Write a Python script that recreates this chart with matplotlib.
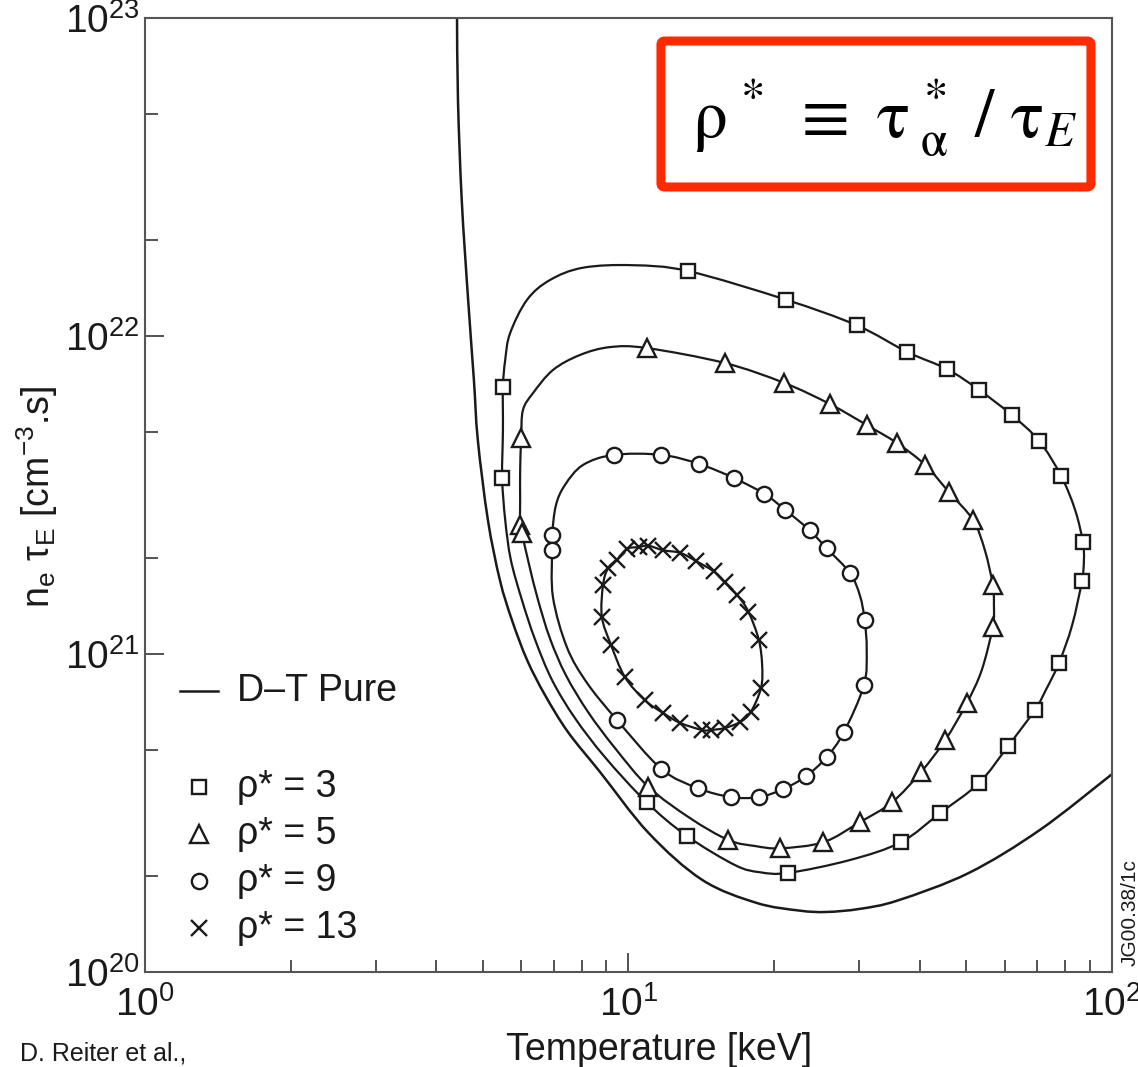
import matplotlib
matplotlib.use("Agg")
import numpy as np
import matplotlib.pyplot as plt
from matplotlib.path import Path
from matplotlib.patches import FancyBboxPatch, PathPatch
from matplotlib.ticker import LogLocator, NullFormatter

plt.rcParams['font.family'] = ['Liberation Sans', 'DejaVu Sans']
plt.rcParams['mathtext.fontset'] = 'custom'
plt.rcParams['mathtext.rm'] = 'Liberation Sans'
plt.rcParams['mathtext.it'] = 'Liberation Sans:italic'
plt.rcParams['mathtext.bf'] = 'Liberation Sans:bold'

# Pure D-T ignition boundary (T in keV, n_e*tau_E in cm^-3 s)
dt_T = [4.42, 4.44, 4.52, 4.66, 4.79, 4.88, 5.12, 5.42, 5.74, 6.17, 6.72, 7.50,
        8.73, 11.0, 14.2, 18.4, 22.6, 25.7, 30.1, 36.1, 50.6, 71.0, 100.0]
dt_nt = [1.0e23, 5.52e22, 2.68e22, 1.30e22, 7.27e21, 4.71e21, 2.64e21, 1.71e21,
         1.28e21, 9.58e20, 7.43e20, 5.68e20, 4.26e20, 2.74e20, 1.95e20, 1.65e20,
         1.56e20, 1.545e20, 1.58e20, 1.68e20, 2.05e20, 2.80e20, 4.19e20]

# rho* = 3 : closed contour and computed points
r3_T = [5.48, 5.50, 5.50, 5.56, 5.69, 6.17, 6.88, 8.05, 10.2, 13.3, 21.2, 29.7,
        37.7, 45.6, 53.1, 62.1, 70.7, 78.5, 83.9, 87.1, 87.5, 86.7, 82.7, 77.7,
        73.0, 69.3, 61.0, 53.1, 44.1, 36.6, 28.7, 21.4, 18.7, 16.6, 13.2, 10.9,
        8.94, 7.75, 6.95, 6.41, 6.02, 5.71, 5.56, 5.48]
r3_nt = [3.58e21, 5.06e21, 6.91e21, 8.41e21, 1.02e22, 1.30e22, 1.50e22, 1.64e22,
         1.67e22, 1.60e22, 1.30e22, 1.08e22, 8.91e21, 7.87e21, 6.77e21, 5.64e21,
         4.68e21, 3.63e21, 2.84e21, 2.25e21, 1.98e21, 1.70e21, 1.23e21, 9.37e20,
         7.71e20, 6.67e20, 5.14e20, 3.93e20, 3.16e20, 2.56e20, 2.25e20, 2.05e20,
         2.06e20, 2.17e20, 2.68e20, 3.42e20, 4.74e20, 6.29e20, 8.28e20, 1.11e21,
         1.48e21, 1.98e21, 2.64e21, 3.58e21]
r3_mT = [13.3, 21.2, 29.7, 37.7, 45.6, 53.1, 62.1, 70.7, 78.5, 87.1, 86.7, 77.7,
         69.3, 61.0, 53.1, 44.1, 36.6, 21.4, 13.2, 10.9, 5.50, 5.48]
r3_mnt = [1.60e22, 1.30e22, 1.08e22, 8.91e21, 7.87e21, 6.77e21, 5.64e21, 4.68e21,
          3.63e21, 2.25e21, 1.70e21, 9.37e20, 6.67e20, 5.14e20, 3.93e20, 3.16e20,
          2.56e20, 2.05e20, 2.68e20, 3.42e20, 6.91e21, 3.58e21]

# rho* = 5
r5_T = [5.97, 6.00, 6.05, 6.35, 6.98, 7.94, 9.16, 10.9, 15.8, 21.0, 26.1, 31.1,
        35.9, 41.1, 46.0, 51.6, 54.6, 56.7, 57.0, 56.7, 53.8, 50.1, 45.2, 40.3,
        35.1, 30.1, 25.3, 20.6, 18.3, 16.1, 13.4, 11.0, 9.38, 8.25, 7.42, 6.88,
        6.50, 6.23, 6.02, 5.97, 5.97, 5.97]
r5_nt = [3.79e21, 4.78e21, 5.85e21, 6.62e21, 7.82e21, 8.72e21, 9.23e21, 9.17e21,
         8.23e21, 7.12e21, 6.11e21, 5.25e21, 4.61e21, 3.93e21, 3.23e21, 2.64e21,
         2.12e21, 1.65e21, 1.43e21, 1.22e21, 8.91e20, 7.01e20, 5.36e20, 4.26e20,
         3.42e20, 2.96e20, 2.56e20, 2.45e20, 2.49e20, 2.60e20, 3.05e20, 3.82e20,
         5.06e20, 6.57e20, 8.59e20, 1.12e21, 1.48e21, 1.91e21, 2.40e21, 2.55e21,
         3.05e21, 3.79e21]
r5_mT = [10.9, 15.8, 21.0, 26.1, 31.1, 35.9, 41.1, 46.0, 51.6, 56.7, 56.7, 50.1,
         45.2, 40.3, 35.1, 30.1, 25.3, 20.6, 16.1, 11.0, 6.00, 5.97, 6.02]
r5_mnt = [9.17e21, 8.23e21, 7.12e21, 6.11e21, 5.25e21, 4.61e21, 3.93e21, 3.23e21,
          2.64e21, 1.65e21, 1.22e21, 7.01e20, 5.36e20, 4.26e20, 3.42e20, 2.96e20,
          2.56e20, 2.45e20, 2.60e20, 3.82e20, 4.78e21, 2.55e21, 2.40e21]

# rho* = 9
r9_T = [6.95, 7.08, 7.39, 8.05, 9.33, 11.7, 14.0, 16.5, 19.1, 21.1, 23.7, 25.7,
        28.7, 30.1, 30.8, 31.1, 30.7, 27.9, 25.7, 23.3, 20.9, 18.6, 16.3, 13.9,
        11.7, 9.47, 8.21, 7.46, 6.98, 6.95, 6.95]
r9_nt = [2.37e21, 2.94e21, 3.40e21, 3.93e21, 4.23e21, 4.23e21, 3.96e21, 3.58e21,
         3.19e21, 2.84e21, 2.45e21, 2.15e21, 1.80e21, 1.53e21, 1.28e21, 1.03e21,
         7.99e20, 5.68e20, 4.74e20, 4.13e20, 3.76e20, 3.55e20, 3.55e20, 3.79e20,
         4.35e20, 6.20e20, 8.11e20, 1.05e21, 1.51e21, 2.12e21, 2.37e21]
r9_mT = [9.33, 11.7, 14.0, 16.5, 19.1, 21.1, 23.7, 25.7, 28.7, 30.8, 30.7, 27.9,
         25.7, 23.3, 20.9, 18.6, 16.3, 13.9, 11.7, 9.47, 6.95, 6.95]
r9_mnt = [4.23e21, 4.23e21, 3.96e21, 3.58e21, 3.19e21, 2.84e21, 2.45e21, 2.15e21,
          1.80e21, 1.28e21, 7.99e20, 5.68e20, 4.74e20, 4.13e20, 3.76e20, 3.55e20,
          3.55e20, 3.79e20, 4.35e20, 6.20e20, 2.37e21, 2.12e21]

# rho* = 13
r13_T = [8.86, 9.07, 9.47, 9.93, 10.5, 11.0, 11.8, 12.8, 13.8, 15.0, 15.8, 16.8,
         17.7, 18.6, 18.9, 18.8, 17.9, 17.0, 15.8, 14.8, 14.2, 12.8, 11.8, 10.8,
         9.83, 9.20, 8.81, 8.86]
r13_nt = [1.65e21, 1.86e21, 1.98e21, 2.14e21, 2.17e21, 2.19e21, 2.12e21, 2.08e21,
          1.96e21, 1.82e21, 1.68e21, 1.53e21, 1.36e21, 1.11e21, 9.24e20, 7.82e20,
          6.57e20, 6.11e20, 5.85e20, 5.77e20, 5.77e20, 6.07e20, 6.52e20, 7.17e20,
          8.47e20, 1.07e21, 1.31e21, 1.65e21]
r13_mT = r13_T[:14] + r13_T[15:-1]
r13_mnt = r13_nt[:14] + r13_nt[15:-1]

labels = ['ρ* = 3', 'ρ* = 5', 'ρ* = 9', 'ρ* = 13']
markers = ['s', '^', 'o', 'x']
msizes = [10.5, 13.5, 11, 11]


def smooth_path(T, nt, closed):
    """Cubic Bezier path through the points, built in log-log space."""
    p = np.column_stack([np.log10(T), np.log10(nt)])
    if closed:
        p = p[:-1]
        ext = np.vstack([p[-1:], p, p[:2]])
        nseg = len(p)
    else:
        ext = np.vstack([p[:1], p, p[-1:]])
        nseg = len(p) - 1
    verts = [ext[1]]
    codes = [Path.MOVETO]
    for i in range(nseg):
        a, b, c, d = ext[i], ext[i + 1], ext[i + 2], ext[i + 3]
        verts += [b + (c - a) / 6, c - (d - b) / 6, c]
        codes += [Path.CURVE4] * 3
    return Path(10 ** np.array(verts), codes)


ink = '#1a1a1a'
fig = plt.figure(figsize=(11.38, 10.67), dpi=100)
ax = fig.add_axes([0.1274, 0.0890, 0.8497, 0.8941])
ax.set_xscale('log')
ax.set_yscale('log')
ax.set_xlim(1, 100)
ax.set_ylim(1e20, 1e23)

ax.add_patch(PathPatch(smooth_path(dt_T, dt_nt, False), fill=False,
                       edgecolor=ink, lw=1.8))
curves = [(r3_T, r3_nt, r3_mT, r3_mnt), (r5_T, r5_nt, r5_mT, r5_mnt),
          (r9_T, r9_nt, r9_mT, r9_mnt), (r13_T, r13_nt, r13_mT, r13_mnt)]
for (cT, cn, mT, mn), mk, ms in zip(curves, markers, msizes):
    ax.add_patch(PathPatch(smooth_path(cT, cn, True), fill=False,
                           edgecolor=ink, lw=1.6))
    ax.plot(mT, mn, ls='none', marker=mk, ms=ms, mfc='white', mec=ink, mew=1.7)

# axes styling
for s in ax.spines.values():
    s.set_color('#555555')
    s.set_linewidth(1.5)
ax.yaxis.set_minor_locator(LogLocator(base=10, subs=[2, 5]))
ax.yaxis.set_minor_formatter(NullFormatter())
ax.xaxis.set_minor_locator(LogLocator(base=10, subs=range(2, 10)))
ax.xaxis.set_minor_formatter(NullFormatter())
ax.tick_params(which='both', direction='in', top=False, right=False,
               color='#444444', width=1.3, labelsize=28, labelcolor=ink)
ax.tick_params(which='major', length=14)
ax.tick_params(which='minor', length=9)
ax.tick_params(axis='y', pad=4)
ax.tick_params(axis='x', pad=10)

ax.set_xlabel('Temperature [keV]', fontsize=27, color=ink)
ax.xaxis.set_label_coords(0.5315, -0.063)
ax.set_ylabel(r'n$_\mathregular{e}$ τ$_\mathregular{E}$ [cm$^{-3}$.s]', fontsize=27, color=ink)
ax.yaxis.set_label_coords(-0.088, 0.498)

# legend drawn by hand
ax.plot([0.0362, 0.0755], [0.2945, 0.2945], transform=ax.transAxes, color=ink, lw=1.8)
ax.text(0.0951, 0.2945, 'D–T Pure', transform=ax.transAxes, fontsize=27,
        va='center', ha='left', color=ink)
for i, (lab, mk, ms) in enumerate(zip(labels, markers, msizes)):
    yy = 0.1939 - i * 0.0493
    ax.plot([0.0558], [yy], transform=ax.transAxes, ls='none', marker=mk, ms=ms,
            mfc='white', mec=ink, mew=1.7)
    ax.text(0.0951, yy, lab, transform=ax.transAxes, fontsize=27,
            va='center', ha='left', color=ink)

# definition box
box = FancyBboxPatch((0.5336, 0.8229), 0.4447, 0.1530,
                     boxstyle='round,pad=0,rounding_size=0.004',
                     transform=ax.transAxes, facecolor='white', edgecolor='#ff2a00',
                     lw=6.5, zorder=5)
ax.add_patch(box)
ax.text(0.765, 0.895,
        r'$\mathrm{\rho}^{\,*}\ \equiv\ \mathrm{\tau}^{\,*}_{\;\mathrm{\alpha}}\ /\ \mathrm{\tau}_{E}$',
        transform=ax.transAxes, fontsize=50, ha='center', va='center',
        math_fontfamily='stix', color='black', zorder=6)

fig.text(0.993, 0.1443, 'JG00.38/1c', rotation=90, fontsize=15, ha='center',
         va='center', color=ink)
fig.text(0.0176, 0.0131, 'D. Reiter et al.,', fontsize=18, ha='left', va='center',
         color=ink)

fig.savefig('out.png', dpi=100)
